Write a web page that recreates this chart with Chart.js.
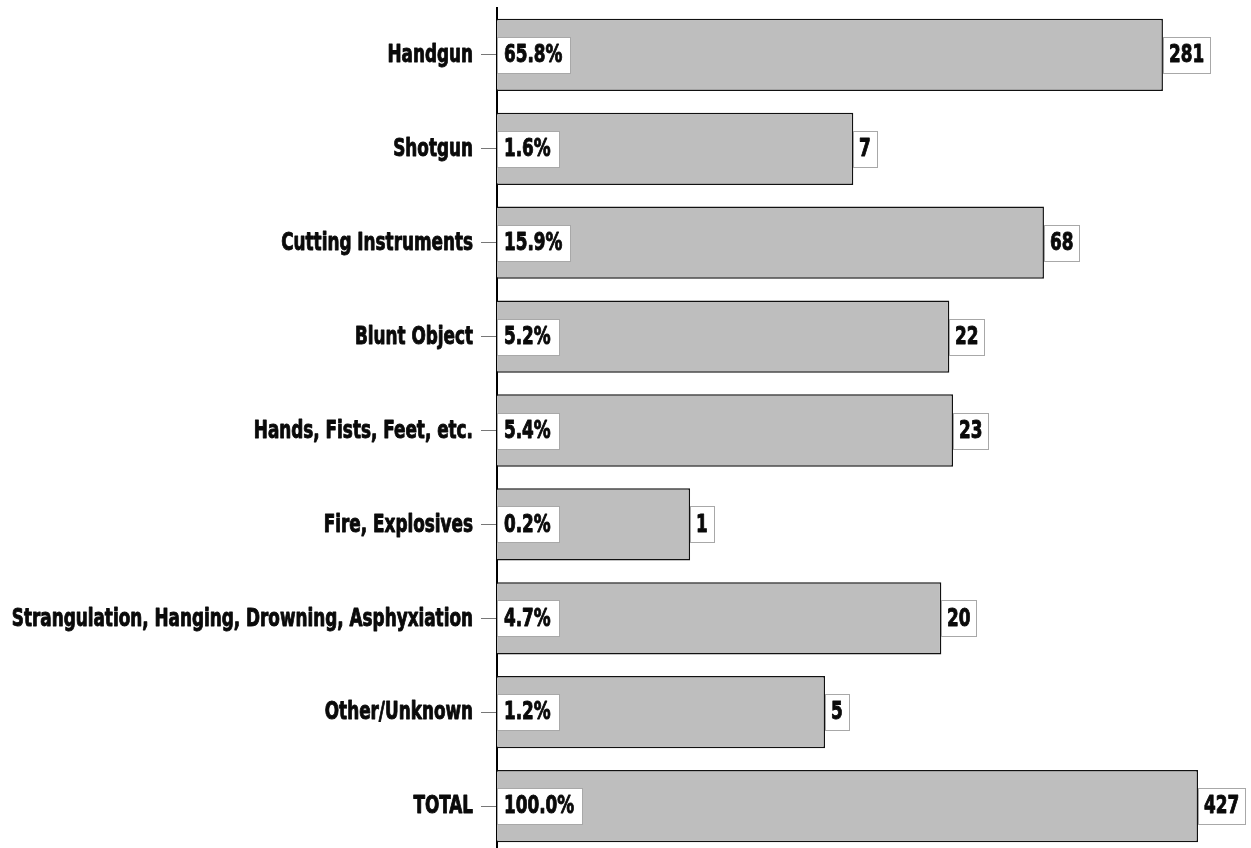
<!DOCTYPE html>
<html>
<head>
<meta charset="utf-8">
<script src="https://cdn.jsdelivr.net/npm/chart.js@4.4.0/dist/chart.umd.min.js"></script>
<style>
  html, body { margin: 0; padding: 0; background: #fff; overflow: hidden; }
  #wrap { width: 1251px; height: 860px; position: relative; }
</style>
</head>
<body>
<div id="wrap"><canvas id="chart"></canvas></div>
<script>
const categories = [
    "Handgun",
    "Shotgun",
    "Cutting Instruments",
    "Blunt Object",
    "Hands, Fists, Feet, etc.",
    "Fire, Explosives",
    "Strangulation, Hanging, Drowning, Asphyxiation",
    "Other/Unknown",
    "TOTAL"
];
const counts = [281, 7, 68, 22, 23, 1, 20, 5, 427];
const percentLabels = ["65.8%", "1.6%", "15.9%", "5.2%", "5.4%", "0.2%", "4.7%", "1.2%", "100.0%"];

// heavy condensed look: condensed bold font squeezed a bit more and stroked
const labelFont = "bold 24px 'DejaVu Sans Condensed', 'DejaVu Sans', sans-serif";
const squeeze = 0.78;

function squeezedText(ctx, txt, x, y, align) {
    ctx.save();
    ctx.translate(x, y);
    ctx.scale(squeeze, 1);
    ctx.textAlign = align;
    ctx.fillStyle = "#0a0a0a";
    ctx.strokeStyle = "#0a0a0a";
    ctx.lineWidth = 0.9;
    ctx.lineJoin = "round";
    ctx.fillText(txt, 0, 0);
    ctx.strokeText(txt, 0, 0);
    ctx.restore();
}

// category names + white boxes with the percent (left) and the count (at bar end)
const boxLabels = {
    id: "boxLabels",
    afterDraw(chart) {
        const ctx = chart.ctx;
        const meta = chart.getDatasetMeta(0);
        const area = chart.chartArea;
        const yScale = chart.scales.y;
        ctx.save();
        ctx.font = labelFont;
        ctx.textBaseline = "middle";
        categories.forEach((name, i) => {
            squeezedText(ctx, name, area.left - 24, yScale.getPixelForValue(i) + 1, "right");
        });
        meta.data.forEach((bar, i) => {
            const h = 36;
            const y = Math.round(bar.y - h / 2);
            ctx.lineWidth = 1;
            // percent box
            let txt = percentLabels[i];
            let w = Math.round(ctx.measureText(txt).width * squeeze + 15);
            ctx.fillStyle = "#fff";
            ctx.fillRect(area.left, y, w, h);
            ctx.strokeStyle = "#a8a8a8";
            ctx.strokeRect(area.left + 0.5, y + 0.5, w, h);
            squeezedText(ctx, txt, area.left + 7, bar.y + 1, "left");
            // count box
            txt = String(counts[i]);
            w = Math.round(ctx.measureText(txt).width * squeeze + 12);
            const x = Math.round(bar.x);
            ctx.lineWidth = 1;
            ctx.fillStyle = "#fff";
            ctx.fillRect(x, y, w, h);
            ctx.strokeStyle = "#a8a8a8";
            ctx.strokeRect(x + 0.5, y + 0.5, w, h);
            squeezedText(ctx, txt, x + 6, bar.y + 1, "left");
        });
        ctx.restore();
    }
};

new Chart(document.getElementById("chart"), {
    type: "bar",
    plugins: [boxLabels],
    data: {
        labels: categories,
        datasets: [{
            data: counts,
            backgroundColor: "#bebebe",
            borderColor: "#111",
            borderWidth: 1.5,
            borderSkipped: "start",
            categoryPercentage: 1,
            barPercentage: 0.77
        }]
    },
    options: {
        indexAxis: "y",
        responsive: true,
        maintainAspectRatio: false,
        animation: false,
        layout: { padding: { top: 8, bottom: 7, left: 0, right: 0 } },
        plugins: {
            legend: { display: false },
            tooltip: { enabled: false }
        },
        scales: {
            x: {
                type: "logarithmic",
                min: 0.1,
                max: 803,
                display: false
            },
            y: {
                afterFit: (scale) => { scale.width = 497; },
                grid: {
                    offset: false,
                    drawOnChartArea: false,
                    drawTicks: true,
                    tickLength: 16,
                    tickColor: "#777",
                    tickWidth: 1
                },
                border: { display: true, color: "#000", width: 2 },
                ticks: { display: false }
            }
        }
    }
});
</script>
</body>
</html>
